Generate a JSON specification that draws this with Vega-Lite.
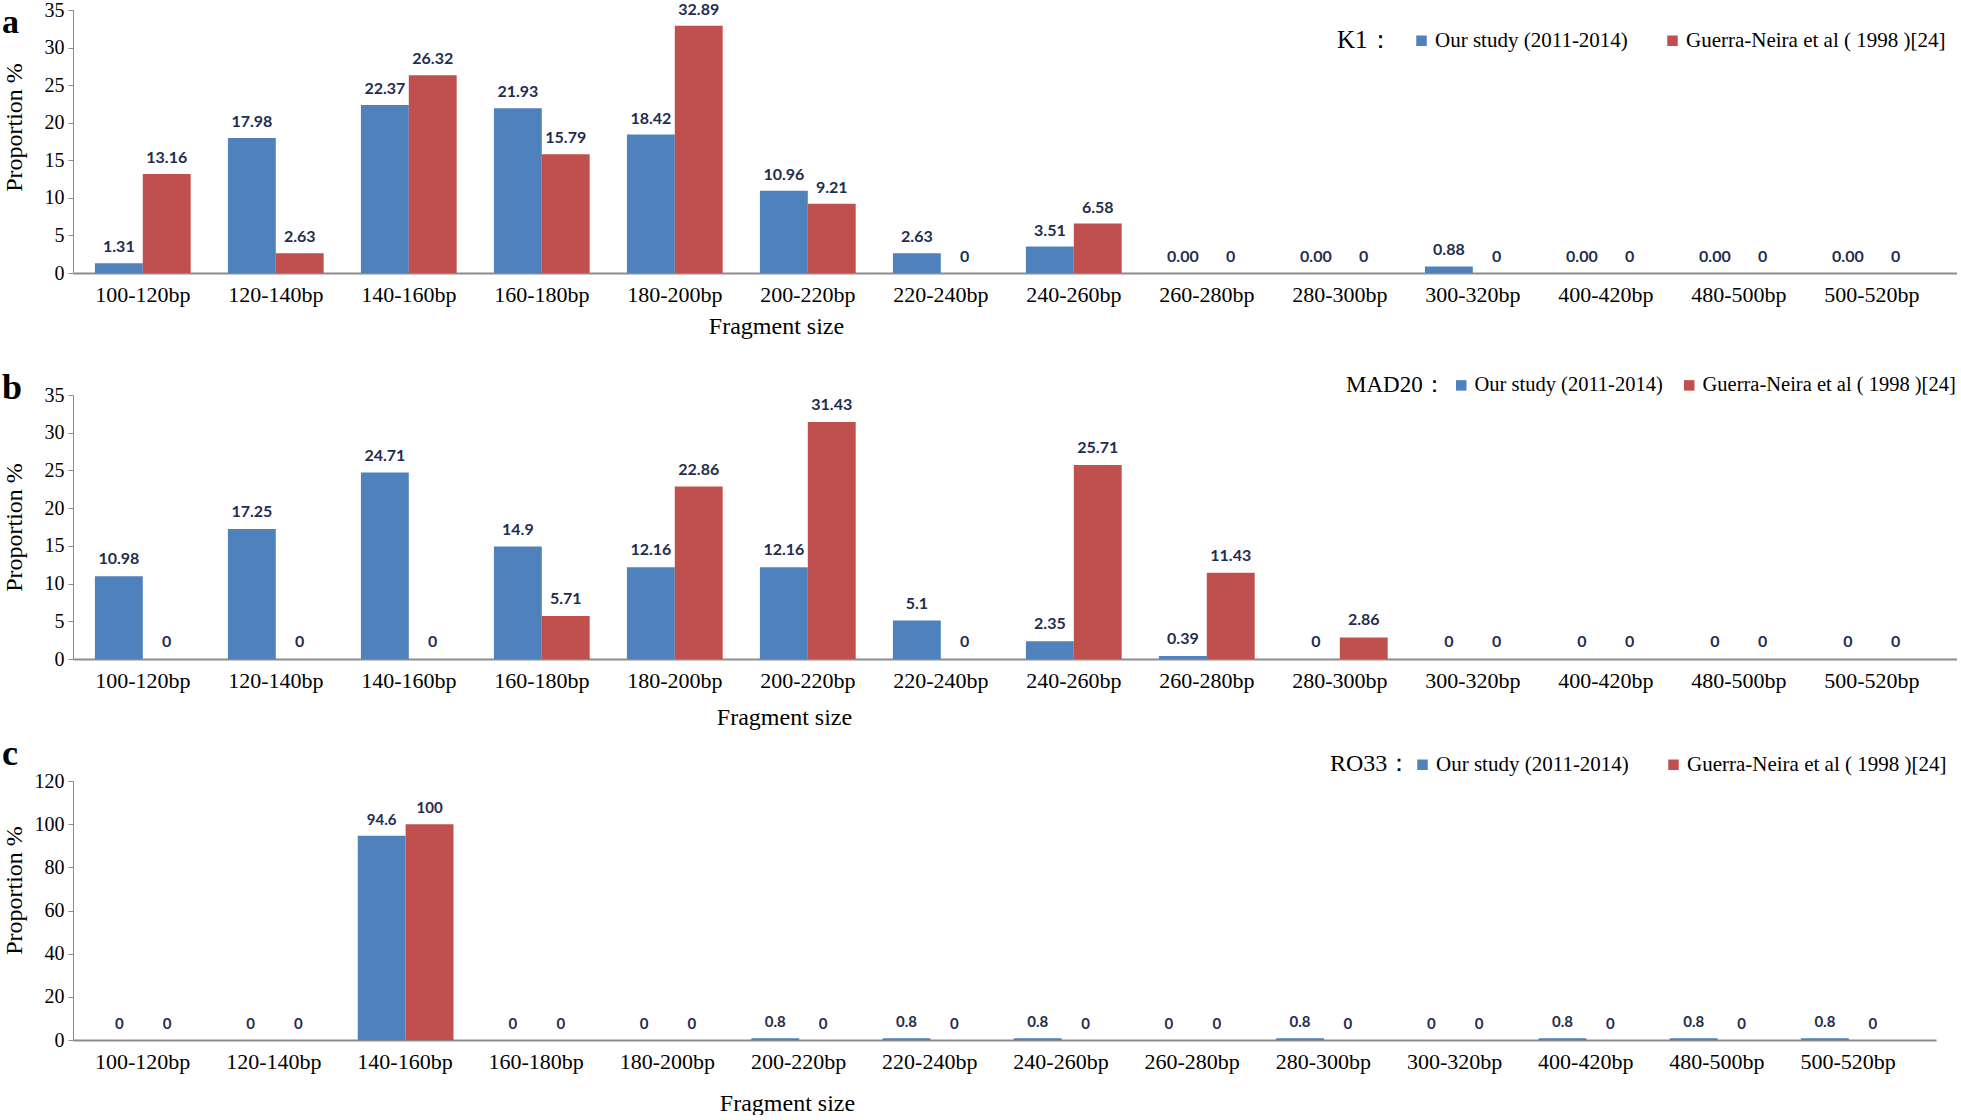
{
  "$schema": "https://vega.github.io/schema/vega-lite/v6.json",
  "background": "white",
  "padding": {"left": 2, "top": 0, "right": 0, "bottom": 0},
  "datasets": {
    "d": [
      {"panel": "a", "size": "100-120bp", "series": "Our study (2011-2014)", "value": 1.31, "label": "1.31"},
      {"panel": "a", "size": "100-120bp", "series": "Guerra-Neira et al ( 1998 )[24]", "value": 13.16, "label": "13.16"},
      {"panel": "a", "size": "120-140bp", "series": "Our study (2011-2014)", "value": 17.98, "label": "17.98"},
      {"panel": "a", "size": "120-140bp", "series": "Guerra-Neira et al ( 1998 )[24]", "value": 2.63, "label": "2.63"},
      {"panel": "a", "size": "140-160bp", "series": "Our study (2011-2014)", "value": 22.37, "label": "22.37"},
      {"panel": "a", "size": "140-160bp", "series": "Guerra-Neira et al ( 1998 )[24]", "value": 26.32, "label": "26.32"},
      {"panel": "a", "size": "160-180bp", "series": "Our study (2011-2014)", "value": 21.93, "label": "21.93"},
      {"panel": "a", "size": "160-180bp", "series": "Guerra-Neira et al ( 1998 )[24]", "value": 15.79, "label": "15.79"},
      {"panel": "a", "size": "180-200bp", "series": "Our study (2011-2014)", "value": 18.42, "label": "18.42"},
      {"panel": "a", "size": "180-200bp", "series": "Guerra-Neira et al ( 1998 )[24]", "value": 32.89, "label": "32.89"},
      {"panel": "a", "size": "200-220bp", "series": "Our study (2011-2014)", "value": 10.96, "label": "10.96"},
      {"panel": "a", "size": "200-220bp", "series": "Guerra-Neira et al ( 1998 )[24]", "value": 9.21, "label": "9.21"},
      {"panel": "a", "size": "220-240bp", "series": "Our study (2011-2014)", "value": 2.63, "label": "2.63"},
      {"panel": "a", "size": "220-240bp", "series": "Guerra-Neira et al ( 1998 )[24]", "value": 0, "label": "0"},
      {"panel": "a", "size": "240-260bp", "series": "Our study (2011-2014)", "value": 3.51, "label": "3.51"},
      {"panel": "a", "size": "240-260bp", "series": "Guerra-Neira et al ( 1998 )[24]", "value": 6.58, "label": "6.58"},
      {"panel": "a", "size": "260-280bp", "series": "Our study (2011-2014)", "value": 0, "label": "0.00"},
      {"panel": "a", "size": "260-280bp", "series": "Guerra-Neira et al ( 1998 )[24]", "value": 0, "label": "0"},
      {"panel": "a", "size": "280-300bp", "series": "Our study (2011-2014)", "value": 0, "label": "0.00"},
      {"panel": "a", "size": "280-300bp", "series": "Guerra-Neira et al ( 1998 )[24]", "value": 0, "label": "0"},
      {"panel": "a", "size": "300-320bp", "series": "Our study (2011-2014)", "value": 0.88, "label": "0.88"},
      {"panel": "a", "size": "300-320bp", "series": "Guerra-Neira et al ( 1998 )[24]", "value": 0, "label": "0"},
      {"panel": "a", "size": "400-420bp", "series": "Our study (2011-2014)", "value": 0, "label": "0.00"},
      {"panel": "a", "size": "400-420bp", "series": "Guerra-Neira et al ( 1998 )[24]", "value": 0, "label": "0"},
      {"panel": "a", "size": "480-500bp", "series": "Our study (2011-2014)", "value": 0, "label": "0.00"},
      {"panel": "a", "size": "480-500bp", "series": "Guerra-Neira et al ( 1998 )[24]", "value": 0, "label": "0"},
      {"panel": "a", "size": "500-520bp", "series": "Our study (2011-2014)", "value": 0, "label": "0.00"},
      {"panel": "a", "size": "500-520bp", "series": "Guerra-Neira et al ( 1998 )[24]", "value": 0, "label": "0"},

      {"panel": "b", "size": "100-120bp", "series": "Our study (2011-2014)", "value": 10.98, "label": "10.98"},
      {"panel": "b", "size": "100-120bp", "series": "Guerra-Neira et al ( 1998 )[24]", "value": 0, "label": "0"},
      {"panel": "b", "size": "120-140bp", "series": "Our study (2011-2014)", "value": 17.25, "label": "17.25"},
      {"panel": "b", "size": "120-140bp", "series": "Guerra-Neira et al ( 1998 )[24]", "value": 0, "label": "0"},
      {"panel": "b", "size": "140-160bp", "series": "Our study (2011-2014)", "value": 24.71, "label": "24.71"},
      {"panel": "b", "size": "140-160bp", "series": "Guerra-Neira et al ( 1998 )[24]", "value": 0, "label": "0"},
      {"panel": "b", "size": "160-180bp", "series": "Our study (2011-2014)", "value": 14.9, "label": "14.9"},
      {"panel": "b", "size": "160-180bp", "series": "Guerra-Neira et al ( 1998 )[24]", "value": 5.71, "label": "5.71"},
      {"panel": "b", "size": "180-200bp", "series": "Our study (2011-2014)", "value": 12.16, "label": "12.16"},
      {"panel": "b", "size": "180-200bp", "series": "Guerra-Neira et al ( 1998 )[24]", "value": 22.86, "label": "22.86"},
      {"panel": "b", "size": "200-220bp", "series": "Our study (2011-2014)", "value": 12.16, "label": "12.16"},
      {"panel": "b", "size": "200-220bp", "series": "Guerra-Neira et al ( 1998 )[24]", "value": 31.43, "label": "31.43"},
      {"panel": "b", "size": "220-240bp", "series": "Our study (2011-2014)", "value": 5.1, "label": "5.1"},
      {"panel": "b", "size": "220-240bp", "series": "Guerra-Neira et al ( 1998 )[24]", "value": 0, "label": "0"},
      {"panel": "b", "size": "240-260bp", "series": "Our study (2011-2014)", "value": 2.35, "label": "2.35"},
      {"panel": "b", "size": "240-260bp", "series": "Guerra-Neira et al ( 1998 )[24]", "value": 25.71, "label": "25.71"},
      {"panel": "b", "size": "260-280bp", "series": "Our study (2011-2014)", "value": 0.39, "label": "0.39"},
      {"panel": "b", "size": "260-280bp", "series": "Guerra-Neira et al ( 1998 )[24]", "value": 11.43, "label": "11.43"},
      {"panel": "b", "size": "280-300bp", "series": "Our study (2011-2014)", "value": 0, "label": "0"},
      {"panel": "b", "size": "280-300bp", "series": "Guerra-Neira et al ( 1998 )[24]", "value": 2.86, "label": "2.86"},
      {"panel": "b", "size": "300-320bp", "series": "Our study (2011-2014)", "value": 0, "label": "0"},
      {"panel": "b", "size": "300-320bp", "series": "Guerra-Neira et al ( 1998 )[24]", "value": 0, "label": "0"},
      {"panel": "b", "size": "400-420bp", "series": "Our study (2011-2014)", "value": 0, "label": "0"},
      {"panel": "b", "size": "400-420bp", "series": "Guerra-Neira et al ( 1998 )[24]", "value": 0, "label": "0"},
      {"panel": "b", "size": "480-500bp", "series": "Our study (2011-2014)", "value": 0, "label": "0"},
      {"panel": "b", "size": "480-500bp", "series": "Guerra-Neira et al ( 1998 )[24]", "value": 0, "label": "0"},
      {"panel": "b", "size": "500-520bp", "series": "Our study (2011-2014)", "value": 0, "label": "0"},
      {"panel": "b", "size": "500-520bp", "series": "Guerra-Neira et al ( 1998 )[24]", "value": 0, "label": "0"},

      {"panel": "c", "size": "100-120bp", "series": "Our study (2011-2014)", "value": 0, "label": "0"},
      {"panel": "c", "size": "100-120bp", "series": "Guerra-Neira et al ( 1998 )[24]", "value": 0, "label": "0"},
      {"panel": "c", "size": "120-140bp", "series": "Our study (2011-2014)", "value": 0, "label": "0"},
      {"panel": "c", "size": "120-140bp", "series": "Guerra-Neira et al ( 1998 )[24]", "value": 0, "label": "0"},
      {"panel": "c", "size": "140-160bp", "series": "Our study (2011-2014)", "value": 94.6, "label": "94.6"},
      {"panel": "c", "size": "140-160bp", "series": "Guerra-Neira et al ( 1998 )[24]", "value": 100, "label": "100"},
      {"panel": "c", "size": "160-180bp", "series": "Our study (2011-2014)", "value": 0, "label": "0"},
      {"panel": "c", "size": "160-180bp", "series": "Guerra-Neira et al ( 1998 )[24]", "value": 0, "label": "0"},
      {"panel": "c", "size": "180-200bp", "series": "Our study (2011-2014)", "value": 0, "label": "0"},
      {"panel": "c", "size": "180-200bp", "series": "Guerra-Neira et al ( 1998 )[24]", "value": 0, "label": "0"},
      {"panel": "c", "size": "200-220bp", "series": "Our study (2011-2014)", "value": 0.8, "label": "0.8"},
      {"panel": "c", "size": "200-220bp", "series": "Guerra-Neira et al ( 1998 )[24]", "value": 0, "label": "0"},
      {"panel": "c", "size": "220-240bp", "series": "Our study (2011-2014)", "value": 0.8, "label": "0.8"},
      {"panel": "c", "size": "220-240bp", "series": "Guerra-Neira et al ( 1998 )[24]", "value": 0, "label": "0"},
      {"panel": "c", "size": "240-260bp", "series": "Our study (2011-2014)", "value": 0.8, "label": "0.8"},
      {"panel": "c", "size": "240-260bp", "series": "Guerra-Neira et al ( 1998 )[24]", "value": 0, "label": "0"},
      {"panel": "c", "size": "260-280bp", "series": "Our study (2011-2014)", "value": 0, "label": "0"},
      {"panel": "c", "size": "260-280bp", "series": "Guerra-Neira et al ( 1998 )[24]", "value": 0, "label": "0"},
      {"panel": "c", "size": "280-300bp", "series": "Our study (2011-2014)", "value": 0.8, "label": "0.8"},
      {"panel": "c", "size": "280-300bp", "series": "Guerra-Neira et al ( 1998 )[24]", "value": 0, "label": "0"},
      {"panel": "c", "size": "300-320bp", "series": "Our study (2011-2014)", "value": 0, "label": "0"},
      {"panel": "c", "size": "300-320bp", "series": "Guerra-Neira et al ( 1998 )[24]", "value": 0, "label": "0"},
      {"panel": "c", "size": "400-420bp", "series": "Our study (2011-2014)", "value": 0.8, "label": "0.8"},
      {"panel": "c", "size": "400-420bp", "series": "Guerra-Neira et al ( 1998 )[24]", "value": 0, "label": "0"},
      {"panel": "c", "size": "480-500bp", "series": "Our study (2011-2014)", "value": 0.8, "label": "0.8"},
      {"panel": "c", "size": "480-500bp", "series": "Guerra-Neira et al ( 1998 )[24]", "value": 0, "label": "0"},
      {"panel": "c", "size": "500-520bp", "series": "Our study (2011-2014)", "value": 0.8, "label": "0.8"},
      {"panel": "c", "size": "500-520bp", "series": "Guerra-Neira et al ( 1998 )[24]", "value": 0, "label": "0"}
    ]
  },
  "data": {"name": "d"},
  "spacing": 122,
  "bounds": "flush",
  "resolve": {"scale": {"y": "independent", "color": "independent", "x": "independent"}, "legend": {"color": "independent"}},
  "vconcat": [
    {
      "width": 1884,
      "height": 263,
      "title": {"text": "a", "anchor": "start", "frame": "bounds", "font": "Liberation Serif", "fontSize": 34, "fontWeight": "bold", "color": "black", "baseline": "alphabetic", "offset": -67},
      "transform": [{"filter": "datum.panel == 'a'"}],
      "encoding": {
        "x": {"field": "size", "type": "nominal", "sort": ["100-120bp","120-140bp","140-160bp","160-180bp","180-200bp","200-220bp","220-240bp","240-260bp","260-280bp","280-300bp","300-320bp","400-420bp","480-500bp","500-520bp"], "scale": {"paddingInner": 0.28, "paddingOuter": 0.2226, "align": 0.37}, "axis": {"title": "Fragment size", "titleX": 703, "titleAlign": "center", "titlePadding": 9}},
        "xOffset": {"field": "series", "type": "nominal", "sort": ["Our study (2011-2014)", "Guerra-Neira et al ( 1998 )[24]"]},
        "y": {"field": "value", "type": "quantitative", "scale": {"domain": [0, 35]}, "axis": {"values": [0, 5, 10, 15, 20, 25, 30, 35], "title": "Proportion %", "titleY": 117, "titlePadding": 18}}
      },
      "layer": [
        {"mark": {"type": "bar"}, "encoding": {"color": {"field": "series", "type": "nominal", "scale": {"domain": ["Our study (2011-2014)", "Guerra-Neira et al ( 1998 )[24]"], "range": ["#4F81BD", "#C0504D"]}, "legend": {"title": "K1：", "legendX": 1264, "legendY": 20, "columnPadding": 34, "titlePadding": 18}}}},
        {"mark": {"type": "text", "baseline": "middle", "dy": -16, "font": "Lato", "fontWeight": "bold", "fontSize": 16, "color": "#1F2D50"}, "encoding": {"text": {"field": "label"}}}
      ]
    },
    {
      "width": 1884,
      "height": 264,
      "title": {"text": "b", "anchor": "start", "frame": "bounds", "font": "Liberation Serif", "fontSize": 36, "fontWeight": "bold", "color": "black", "baseline": "alphabetic", "offset": -60},
      "transform": [{"filter": "datum.panel == 'b'"}],
      "encoding": {
        "x": {"field": "size", "type": "nominal", "sort": ["100-120bp","120-140bp","140-160bp","160-180bp","180-200bp","200-220bp","220-240bp","240-260bp","260-280bp","280-300bp","300-320bp","400-420bp","480-500bp","500-520bp"], "scale": {"paddingInner": 0.28, "paddingOuter": 0.2226, "align": 0.37}, "axis": {"title": "Fragment size", "titleX": 711, "titleAlign": "center", "titlePadding": 14}},
        "xOffset": {"field": "series", "type": "nominal", "sort": ["Our study (2011-2014)", "Guerra-Neira et al ( 1998 )[24]"]},
        "y": {"field": "value", "type": "quantitative", "scale": {"domain": [0, 35]}, "axis": {"values": [0, 5, 10, 15, 20, 25, 30, 35], "title": "Proportion %", "titlePadding": 18}}
      },
      "layer": [
        {"mark": {"type": "bar"}, "encoding": {"color": {"field": "series", "type": "nominal", "scale": {"domain": ["Our study (2011-2014)", "Guerra-Neira et al ( 1998 )[24]"], "range": ["#4F81BD", "#C0504D"]}, "legend": {"title": "MAD20：", "legendX": 1273, "legendY": -20, "columnPadding": 16, "titlePadding": 5, "titleFontSize": 23, "labelFontSize": 20.5}}}},
        {"mark": {"type": "text", "baseline": "middle", "dy": -17, "font": "Lato", "fontWeight": "bold", "fontSize": 16, "color": "#1F2D50"}, "encoding": {"text": {"field": "label"}}}
      ]
    },
    {
      "width": 1863,
      "height": 259,
      "title": {"text": "c", "anchor": "start", "frame": "bounds", "font": "Liberation Serif", "fontSize": 36, "fontWeight": "bold", "color": "black", "baseline": "alphabetic", "offset": -47},
      "transform": [{"filter": "datum.panel == 'c'"}],
      "encoding": {
        "x": {"field": "size", "type": "nominal", "sort": ["100-120bp","120-140bp","140-160bp","160-180bp","180-200bp","200-220bp","220-240bp","240-260bp","260-280bp","280-300bp","300-320bp","400-420bp","480-500bp","500-520bp"], "scale": {"paddingInner": 0.28, "paddingOuter": 0.24, "align": 0.355}, "axis": {"title": "Fragment size", "titleX": 714, "titleAlign": "center", "titlePadding": 19}},
        "xOffset": {"field": "series", "type": "nominal", "sort": ["Our study (2011-2014)", "Guerra-Neira et al ( 1998 )[24]"]},
        "y": {"field": "value", "type": "quantitative", "scale": {"domain": [0, 120]}, "axis": {"values": [0, 20, 40, 60, 80, 100, 120], "title": "Proportion %", "titleY": 109, "titlePadding": 8}}
      },
      "layer": [
        {"mark": {"type": "bar"}, "encoding": {"color": {"field": "series", "type": "nominal", "scale": {"domain": ["Our study (2011-2014)", "Guerra-Neira et al ( 1998 )[24]"], "range": ["#4F81BD", "#C0504D"]}, "legend": {"title": "RO33：", "legendX": 1257, "legendY": -27, "columnPadding": 34, "titlePadding": 0, "titleFontSize": 24}}}},
        {"mark": {"type": "text", "baseline": "middle", "dy": -16, "font": "Lato", "fontWeight": "bold", "fontSize": 15, "color": "#1F2D50"}, "encoding": {"text": {"field": "label"}}}
      ]
    }
  ],
  "config": {
    "view": {"stroke": null},
    "font": "Liberation Serif",
    "axis": {"labelFont": "Liberation Serif", "titleFont": "Liberation Serif", "labelColor": "black", "titleColor": "black", "titleFontWeight": "normal", "labelFontSize": 20, "titleFontSize": 24, "domainColor": "#8c8c8c", "tickColor": "#8c8c8c", "grid": false},
    "axisX": {"domainWidth": 2, "ticks": false, "labelAngle": 0, "labelPadding": 11, "labelFontSize": 22},
    "axisY": {"domainWidth": 1, "tickSize": 5, "labelPadding": 4},
    "legend": {"orient": "none", "direction": "horizontal", "titleOrient": "left", "labelFont": "Liberation Serif", "labelFontSize": 21, "labelColor": "black", "titleFont": "Liberation Serif", "titleFontSize": 25, "titleFontWeight": "normal", "titleColor": "black", "symbolType": "square", "symbolSize": 110, "symbolStrokeWidth": 0, "labelOffset": 3, "labelLimit": 400}
  }
}
